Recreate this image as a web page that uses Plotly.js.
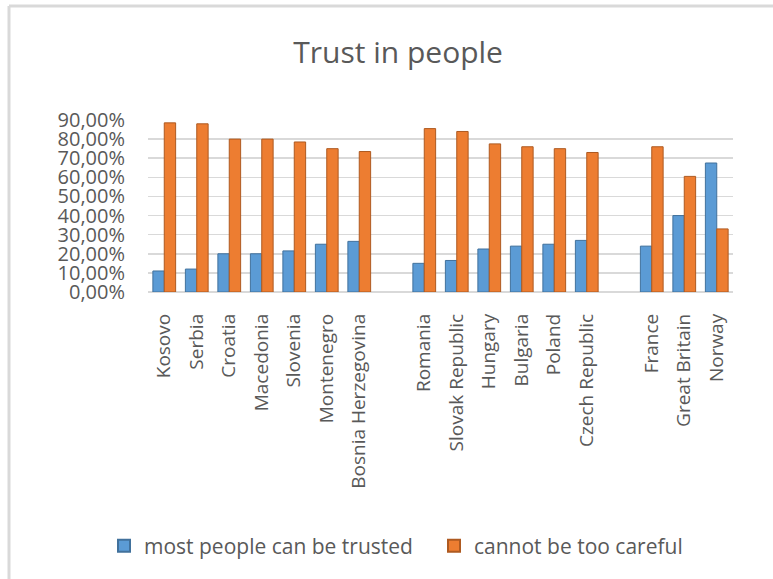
<!DOCTYPE html>
<html>
<head>
<meta charset="utf-8">
<script src="https://cdn.plot.ly/plotly-3.0.1.min.js"></script>
<style>
  html, body { margin: 0; padding: 0; background: #ffffff; }
  #chart { width: 773px; height: 579px; }
</style>
</head>
<body>
<div id="chart"></div>
<script>
// Categories (blank entries are the spacer slots between country groups)
const categories = [
  "Kosovo", "Serbia", "Croatia", "Macedonia", "Slovenia", "Montenegro", "Bosnia Herzegovina",
  " ",
  "Romania", "Slovak Republic", "Hungary", "Bulgaria", "Poland", "Czech Republic",
  "  ",
  "France", "Great Britain", "Norway"
];

const trusted = [
  0.11, 0.12, 0.20, 0.20, 0.215, 0.25, 0.265,
  null,
  0.15, 0.165, 0.225, 0.24, 0.25, 0.27,
  null,
  0.24, 0.40, 0.675
];

const careful = [
  0.885, 0.88, 0.80, 0.80, 0.785, 0.75, 0.735,
  null,
  0.855, 0.84, 0.775, 0.76, 0.75, 0.73,
  null,
  0.76, 0.605, 0.33
];

const seriesNames = ["most people can be trusted", "cannot be too careful"];
const yTicks = [0, 0.1, 0.2, 0.3, 0.4, 0.5, 0.6, 0.7, 0.8, 0.9];

const FONT = "Open Sans, Noto Sans, sans-serif";
const GREY = "#595959";

const traces = [
  {
    type: "bar", name: seriesNames[0], x: categories, y: trusted,
    marker: { color: "#5B9BD5", line: { color: "#41719C", width: 1 } },
    legend: "legend",
    hoverinfo: "x+y"
  },
  {
    type: "bar", name: seriesNames[1], x: categories, y: careful,
    marker: { color: "#ED7D31", line: { color: "#AE5A21", width: 1 } },
    legend: "legend2",
    hoverinfo: "x+y"
  }
];

const legendCommon = {
  orientation: "h",
  xref: "container", xanchor: "left",
  yref: "container", y: 1 - 546 / 579, yanchor: "middle",
  font: { family: FONT, size: 21, color: GREY },
  itemwidth: 30,
  bgcolor: "rgba(0,0,0,0)",
  itemsizing: "constant"
};

const layout = {
  width: 773, height: 579,
  margin: { l: 148, r: 40, t: 120, b: 287, pad: 0 },
  paper_bgcolor: "#ffffff",
  plot_bgcolor: "#ffffff",
  separators: ", ",
  font: { family: FONT, color: GREY },
  title: {
    text: "Trust in people",
    font: { family: FONT, size: 30, color: GREY },
    x: 0.515, xref: "container", xanchor: "center",
    y: 1 - 52 / 579, yref: "container", yanchor: "middle"
  },
  barmode: "group",
  bargap: 0.3,
  bargroupgap: 0,
  xaxis: {
    type: "category",
    categoryorder: "array",
    categoryarray: categories,
    tickangle: -90,
    ticks: "",
    showgrid: false,
    showline: false,
    zeroline: false,
    ticklabelstandoff: 17,
    tickfont: { family: FONT, size: 19, color: GREY }
  },
  yaxis: {
    range: [0, 0.9],
    tickvals: yTicks,
    tickformat: ".2%",
    ticks: "",
    showgrid: true,
    gridcolor: "#d9d9d9",
    gridwidth: 1.5,
    zeroline: true,
    zerolinecolor: "#d9d9d9",
    zerolinewidth: 1.5,
    showline: false,
    ticklabelstandoff: 22,
    tickfont: { family: FONT, size: 20, color: GREY }
  },
  showlegend: true,
  legend: Object.assign({}, legendCommon, { x: 104 / 773 }),
  legend2: Object.assign({}, legendCommon, { x: 434 / 773 }),
  shapes: [
    { type: "line", xref: "paper", yref: "paper",
      x0: (9 - 148) / 585, x1: (773 - 148) / 585,
      y0: (292 - 6) / 172, y1: (292 - 6) / 172,
      line: { color: "#d9d9d9", width: 3 } },
    { type: "line", xref: "paper", yref: "paper",
      x0: (9 - 148) / 585, x1: (9 - 148) / 585,
      y0: (292 - 6) / 172, y1: (292 - 579) / 172,
      line: { color: "#d9d9d9", width: 3 } }
  ]
};

Plotly.newPlot("chart", traces, layout, { displayModeBar: false, staticPlot: true });
</script>
</body>
</html>
